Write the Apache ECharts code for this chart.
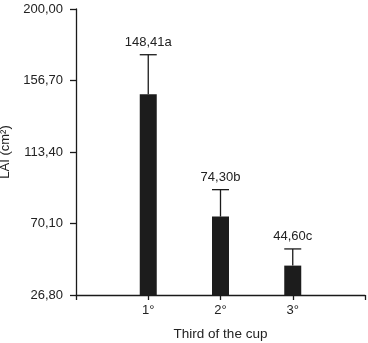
<!DOCTYPE html>
<html>
<head>
<meta charset="utf-8">
<script src="https://cdn.jsdelivr.net/npm/echarts@6/dist/echarts.min.js"></script>
<style>
  html, body { margin: 0; padding: 0; background: #fff; }
  #chart { width: 368px; height: 343px; }
</style>
</head>
<body>
<div id="chart"></div>
<script>
  // data
  var categories = ['1°', '2°', '3°'];
  var means = [148.41, 74.30, 44.60];
  var errors = [23.9, 16.3, 10.1];
  var letters = ['a', 'b', 'c'];
  var yBase = 26.80;
  var yTop = 200.00;
  var yStep = 43.30;

  var fmt = function (v) { return v.toFixed(2).replace('.', ','); };

  // empty slots at both ends so the axis starts and ends one step away
  var xCats = [''].concat(categories).concat(['']);
  var barData = ['-'].concat(means.map(function (v) { return v - yBase; })).concat(['-']);
  var errData = means.map(function (v, i) {
    return [i + 1, v - yBase, v + errors[i] - yBase, fmt(v) + letters[i]];
  });

  var myChart = echarts.init(document.getElementById('chart'));
  var txt = '#222';
  var option = {
    animation: false,
    grid: { left: 76, right: 3, top: 9, bottom: 48, outerBoundsMode: 'none', containLabel: false },
    xAxis: {
      type: 'category',
      data: xCats,
      boundaryGap: false,
      name: 'Third of the cup',
      nameLocation: 'middle',
      nameGap: 32,
      nameTextStyle: { color: txt, fontSize: 13.5, fontFamily: 'Liberation Sans' },
      axisLine: { lineStyle: { color: '#1a1a1a', width: 1.3 } },
      axisTick: { show: true, length: 5, alignWithLabel: true, lineStyle: { color: '#1a1a1a', width: 1.3 } },
      axisLabel: { color: txt, fontSize: 13, fontFamily: 'Liberation Sans', margin: 9, interval: 0 },
      splitLine: { show: false }
    },
    yAxis: {
      type: 'value',
      min: 0,
      max: yTop - yBase,
      interval: yStep,
      name: 'LAI (cm²)',
      nameLocation: 'middle',
      nameGap: 60,
      nameTextStyle: { color: txt, fontSize: 13, fontFamily: 'Liberation Sans' },
      axisLine: { show: true, lineStyle: { color: '#1a1a1a', width: 1.3 } },
      axisTick: { show: true, length: 6, lineStyle: { color: '#1a1a1a', width: 1.3 } },
      axisLabel: {
        color: txt, fontSize: 13, fontFamily: 'Liberation Sans', margin: 13,
        formatter: function (v) { return fmt(v + yBase); }
      },
      splitLine: { show: false }
    },
    series: [
      {
        type: 'bar',
        data: barData,
        barWidth: 17,
        itemStyle: { color: '#1c1c1c' }
      },
      {
        type: 'custom',
        data: errData,
        z: 5,
        renderItem: function (params, api) {
          var x = api.value(0);
          var lo = api.coord([x, api.value(1)]);
          var hi = api.coord([x, api.value(2)]);
          var half = 8.5;
          var st = { stroke: '#1a1a1a', lineWidth: 1.3 };
          return {
            type: 'group',
            children: [
              { type: 'line', shape: { x1: lo[0], y1: lo[1], x2: hi[0], y2: hi[1] }, style: st },
              { type: 'line', shape: { x1: hi[0] - half, y1: hi[1], x2: hi[0] + half, y2: hi[1] }, style: st },
              {
                type: 'text',
                x: hi[0], y: hi[1] - 6,
                style: {
                  text: api.value(3),
                  fill: txt,
                  fontSize: 13,
                  fontFamily: 'Liberation Sans',
                  align: 'center',
                  verticalAlign: 'bottom'
                }
              }
            ]
          };
        }
      }
    ]
  };
  myChart.setOption(option);
</script>
</body>
</html>
